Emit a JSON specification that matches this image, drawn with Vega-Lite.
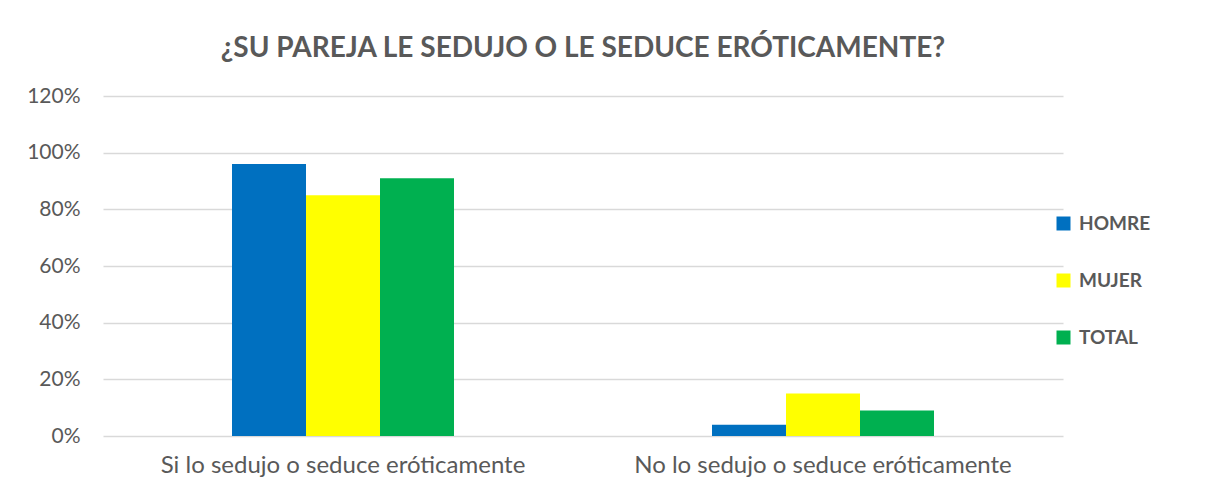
{
  "$schema": "https://vega.github.io/schema/vega-lite/v6.json",
  "autosize": {"type": "none"},
  "padding": {"left": 103, "top": 96, "right": 153, "bottom": 55},
  "width": 960,
  "height": 340,
  "background": "white",
  "title": {
    "text": "¿SU PAREJA LE SEDUJO O LE SEDUCE ERÓTICAMENTE?",
    "font": "Lato",
    "fontSize": 28,
    "fontWeight": "bold",
    "color": "#595959",
    "anchor": "middle",
    "offset": 22
  },
  "data": {
    "values": [
      {"categoria": "Si lo sedujo o seduce eróticamente", "grupo": "HOMRE", "valor": 0.96},
      {"categoria": "Si lo sedujo o seduce eróticamente", "grupo": "MUJER", "valor": 0.85},
      {"categoria": "Si lo sedujo o seduce eróticamente", "grupo": "TOTAL", "valor": 0.91},
      {"categoria": "No lo sedujo o seduce eróticamente", "grupo": "HOMRE", "valor": 0.04},
      {"categoria": "No lo sedujo o seduce eróticamente", "grupo": "MUJER", "valor": 0.15},
      {"categoria": "No lo sedujo o seduce eróticamente", "grupo": "TOTAL", "valor": 0.09}
    ]
  },
  "mark": {"type": "bar"},
  "encoding": {
    "x": {
      "field": "categoria",
      "type": "nominal",
      "sort": null,
      "scale": {"paddingInner": 0.5375, "paddingOuter": 0.26875},
      "axis": {
        "title": null,
        "labelAngle": 0,
        "labelFont": "Lato",
        "labelFontSize": 24,
        "labelColor": "#595959",
        "labelPadding": 17,
        "labelLimit": 0,
        "domain": false,
        "ticks": false
      }
    },
    "xOffset": {"field": "grupo", "type": "nominal", "sort": ["HOMRE", "MUJER", "TOTAL"], "scale": {"paddingInner": 0, "paddingOuter": 0}},
    "y": {
      "field": "valor",
      "type": "quantitative",
      "scale": {"domain": [0, 1.2]},
      "axis": {
        "title": null,
        "format": ".0%",
        "values": [0, 0.2, 0.4, 0.6, 0.8, 1.0, 1.2],
        "labelFont": "Lato",
        "labelFontSize": 21,
        "labelColor": "#595959",
        "labelPadding": 23,
        "domain": false,
        "ticks": false,
        "grid": true,
        "gridColor": "#D9D9D9",
        "gridWidth": 1.5
      }
    },
    "color": {
      "field": "grupo",
      "type": "nominal",
      "sort": ["HOMRE", "MUJER", "TOTAL"],
      "scale": {"domain": ["HOMRE", "MUJER", "TOTAL"], "range": ["#0070C0", "#FFFF00", "#00B050"]},
      "legend": {
        "title": null,
        "orient": "none",
        "legendX": 951,
        "legendY": 118,
        "symbolType": "square",
        "symbolSize": 196,
        "symbolStrokeWidth": 0,
        "symbolOpacity": 1,
        "labelFont": "Lato",
        "labelFontSize": 19,
        "labelFontWeight": "bold",
        "labelColor": "#595959",
        "labelOffset": 6,
        "rowPadding": 37
      }
    }
  },
  "config": {"view": {"stroke": null}}
}
